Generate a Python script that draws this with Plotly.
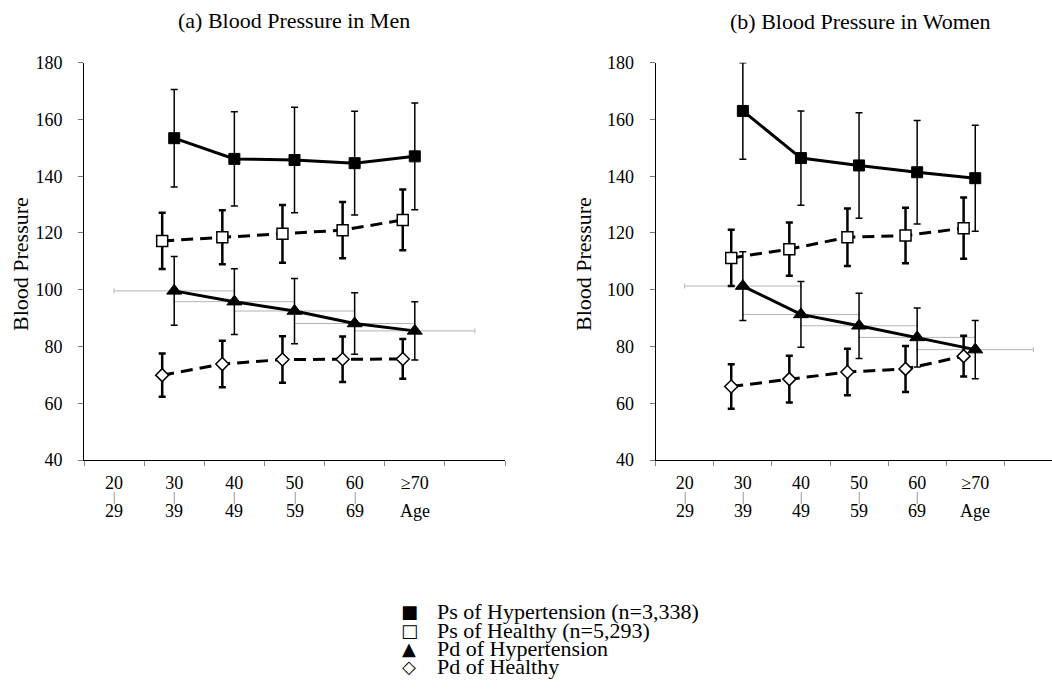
import numpy as np
import plotly.graph_objects as go

# ---------------- data ----------------
age_groups = ["20-29", "30-39", "40-49", "50-59", "60-69", ">=70"]
tick_top = ["20", "30", "40", "50", "60", "≥70"]
tick_bottom = ["29", "39", "49", "59", "69", "Age"]
data_groups = ["30-39", "40-49", "50-59", "60-69", ">=70"]

series_names = ["Ps of Hypertension (n=3,338)", "Ps of Healthy (n=5,293)",
                "Pd of Hypertension", "Pd of Healthy"]
legend_symbols = ["■", "□", "▲", "◇"]

panel_titles = ["(a) Blood Pressure in Men", "(b) Blood Pressure in Women"]
y_title = "Blood Pressure"
y_ticks = [40, 60, 80, 100, 120, 140, 160, 180]

men_ps_hyp = [153.4, 146.1, 145.7, 144.6, 147.0]
men_ps_hyp_sd = [17.2, 16.6, 18.6, 18.3, 18.8]
men_ps_healthy = [117.2, 118.5, 119.7, 121.0, 124.6]
men_ps_healthy_sd = [9.9, 9.5, 10.2, 9.9, 10.7]
men_pd_hyp = [99.6, 95.8, 92.5, 88.1, 85.5]
men_pd_hyp_sd = [12.1, 11.6, 11.5, 10.8, 10.3]
men_pd_healthy = [69.9, 73.8, 75.4, 75.5, 75.6]
men_pd_healthy_sd = [7.6, 8.2, 8.2, 8.0, 7.0]

women_ps_hyp = [163.0, 146.4, 143.8, 141.4, 139.3]
women_ps_hyp_sd = [17.0, 16.6, 18.6, 18.2, 18.7]
women_ps_healthy = [111.2, 114.3, 118.5, 119.1, 121.7]
women_ps_healthy_sd = [9.9, 9.4, 10.1, 9.8, 10.8]
women_pd_hyp = [101.3, 91.3, 87.3, 83.2, 78.9]
women_pd_hyp_sd = [12.1, 11.6, 11.5, 10.4, 10.3]
women_pd_healthy = [65.9, 68.5, 71.0, 72.1, 76.6]
women_pd_healthy_sd = [7.8, 8.2, 8.2, 8.1, 7.2]

# ---------------- styling ----------------
SERIF = "Liberation Serif, Times New Roman, serif"
W, H = 1052, 700
slot_centers = [i + 0.5 for i in range(len(age_groups))]
x_hyp = [age_groups.index(g) + 0.5 for g in data_groups]
x_healthy = [v - 0.2 for v in x_hyp]

fig = go.Figure()

panels = [
    ("x", "y", men_ps_hyp, men_ps_hyp_sd, men_ps_healthy, men_ps_healthy_sd,
     men_pd_hyp, men_pd_hyp_sd, men_pd_healthy, men_pd_healthy_sd),
    ("x2", "y2", women_ps_hyp, women_ps_hyp_sd, women_ps_healthy, women_ps_healthy_sd,
     women_pd_hyp, women_pd_hyp_sd, women_pd_healthy, women_pd_healthy_sd),
]

for (xa, ya, ps_h, ps_h_sd, ps_n, ps_n_sd, pd_h, pd_h_sd, pd_n, pd_n_sd) in panels:
    # grey horizontal bars around diastolic hypertension points (drawn underneath)
    fig.add_trace(go.Scatter(
        x=x_hyp, y=pd_h, xaxis=xa, yaxis=ya, mode="markers", showlegend=False,
        marker=dict(size=1, color="rgba(0,0,0,0)"), hoverinfo="skip",
        error_x=dict(type="constant", value=1, color="#b4b4b4", thickness=1, width=2.5)))
    fig.add_trace(go.Scatter(
        x=x_hyp, y=ps_h, xaxis=xa, yaxis=ya, mode="lines+markers", name=series_names[0],
        showlegend=False, line=dict(color="black", width=3),
        marker=dict(symbol="square", size=11, color="black", line=dict(color="black", width=1)),
        error_y=dict(type="data", array=ps_h_sd, color="black", thickness=1.5, width=3.5)))
    fig.add_trace(go.Scatter(
        x=x_healthy, y=ps_n, xaxis=xa, yaxis=ya, mode="lines+markers", name=series_names[1],
        showlegend=False, line=dict(color="black", width=3, dash="12px,7px"),
        marker=dict(symbol="square", size=11, color="white", line=dict(color="black", width=1.5)),
        error_y=dict(type="data", array=ps_n_sd, color="black", thickness=2.5, width=3.5)))
    fig.add_trace(go.Scatter(
        x=x_hyp, y=pd_h, xaxis=xa, yaxis=ya, mode="lines+markers", name=series_names[2],
        showlegend=False, line=dict(color="black", width=3),
        marker=dict(symbol="triangle-up", size=13, color="black", line=dict(color="black", width=1)),
        error_y=dict(type="data", array=pd_h_sd, color="black", thickness=1.5, width=3.5)))
    fig.add_trace(go.Scatter(
        x=x_healthy, y=pd_n, xaxis=xa, yaxis=ya, mode="lines+markers", name=series_names[3],
        showlegend=False, line=dict(color="black", width=3, dash="12px,7px"),
        marker=dict(symbol="diamond", size=10, color="white", line=dict(color="black", width=1.5)),
        error_y=dict(type="data", array=pd_n_sd, color="black", thickness=2.5, width=3.5)))

x_dom_left = [84 / W, 505 / W]
x_dom_right = [655.7 / W, 1.0]
y_dom = [(H - 460) / H, (H - 62.7) / H]
right_slot_px = 58.1
right_range_end = (W - 655.7) / right_slot_px

def xaxis_cfg(domain, rng):
    return dict(domain=domain, range=rng, showline=True, linecolor="black", linewidth=1,
                tickmode="array", tickvals=slot_centers, ticktext=tick_top, ticks="",
                tickfont=dict(family=SERIF, size=18, color="black"),
                showgrid=False, zeroline=False, fixedrange=True, ticklabelstandoff=6,
                automargin=False,
                minor=dict(tickmode="array", tickvals=list(range(len(age_groups) + 2)),
                           ticks="outside", ticklen=5, tickcolor="#888", showgrid=False))

def yaxis_cfg(anchor):
    return dict(domain=y_dom, range=[40, 180], anchor=anchor, showline=True, linecolor="black",
                linewidth=1, tickmode="array", tickvals=y_ticks, ticks="outside", ticklen=5,
                tickcolor="#777", tickfont=dict(family=SERIF, size=18, color="black"),
                showgrid=False, zeroline=False, ticklabelstandoff=12, automargin=False,
                fixedrange=True)

annotations = []
# bottom line of the age labels with separators
for xa in ("x", "x2"):
    for i, (top, bot) in enumerate(zip(tick_top, tick_bottom)):
        if top != "≥70":
            annotations.append(dict(x=slot_centers[i], y=(H - 497.5) / H, xref=xa, yref="paper",
                                    text="|", showarrow=False, xanchor="center", yanchor="middle",
                                    font=dict(family=SERIF, size=12, color="#555")))
        annotations.append(dict(x=slot_centers[i], y=(H - 511) / H, xref=xa, yref="paper",
                                text=bot, showarrow=False, xanchor="center", yanchor="middle",
                                font=dict(family=SERIF, size=18, color="black")))

# panel titles
for title, xc, yc in ((panel_titles[0], 294, 20), (panel_titles[1], 860, 21)):
    annotations.append(dict(x=xc / W, y=(H - yc) / H, xref="paper", yref="paper", text=title,
                            showarrow=False, xanchor="center", yanchor="middle",
                            font=dict(family=SERIF, size=22, color="black")))
# y titles
for xc in (20, 583):
    annotations.append(dict(x=xc / W, y=(H - 264) / H, xref="paper", yref="paper", text=y_title,
                            textangle=-90, showarrow=False, xanchor="center", yanchor="middle",
                            font=dict(family=SERIF, size=22, color="black")))
# legend (symbol + label rows)
legend_rows_y = [611.7, 630, 648.3, 666]
for sym, name, yc in zip(legend_symbols, series_names, legend_rows_y):
    annotations.append(dict(x=409 / W, y=(H - yc) / H, xref="paper", yref="paper", text=sym,
                            showarrow=False, xanchor="center", yanchor="middle",
                            font=dict(family="DejaVu Sans", size=18, color="black")))
    annotations.append(dict(x=435 / W, y=(H - yc) / H, xref="paper", yref="paper", text=name,
                            showarrow=False, xanchor="left", yanchor="middle",
                            font=dict(family=SERIF, size=22, color="black")))

fig.update_layout(
    width=W, height=H, autosize=False,
    margin=dict(l=0, r=0, t=0, b=0, pad=0, autoexpand=False),
    paper_bgcolor="white", plot_bgcolor="white",
    showlegend=False,
    xaxis=xaxis_cfg(x_dom_left, [0, 7]),
    yaxis=yaxis_cfg("x"),
    xaxis2=dict(xaxis_cfg(x_dom_right, [0, right_range_end]), anchor="y2"),
    yaxis2=yaxis_cfg("x2"),
    annotations=annotations,
    font=dict(family=SERIF, color="black"),
)
fig.update_layout(xaxis=dict(anchor="y"))

fig.write_html("out.html", config={"responsive": False, "displayModeBar": False},
               post_script="document.body.style.margin='0';document.body.style.overflow='hidden';")
